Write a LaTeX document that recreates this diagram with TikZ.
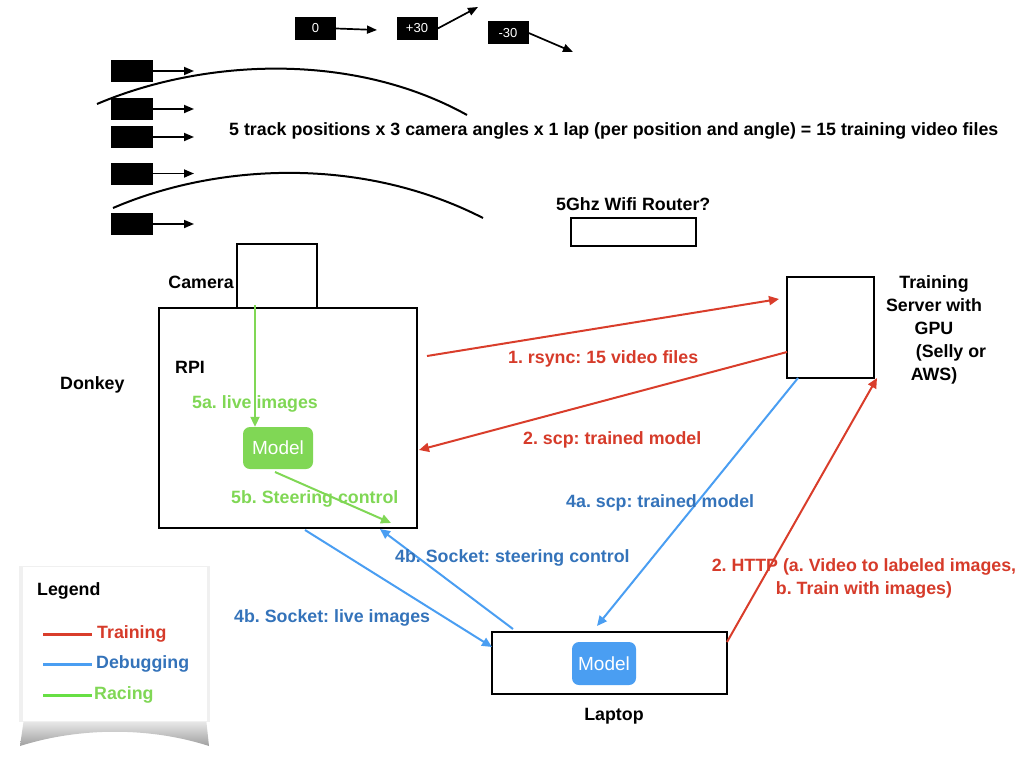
\documentclass[tikz,border=0pt]{standalone}
\usepackage{fontspec}
\setmainfont{Liberation Sans}
\usetikzlibrary{arrows.meta}
\frenchspacing
\definecolor{tred}{HTML}{D93D2B}
\definecolor{tredtxt}{HTML}{D63B2A}
\definecolor{dblue}{HTML}{4A9EF2}
\definecolor{dbluetxt}{HTML}{3473BA}
\definecolor{rgreen}{HTML}{80D755}
\tikzset{
  lbl/.style={font=\fontsize{17.8}{23}\selectfont\bfseries, inner sep=0pt},
  blk/.style={fill=black, draw=black, minimum width=41pt, minimum height=21pt, inner sep=0pt},
  ang/.style={fill=black, text=white, font=\fontsize{13}{15}\selectfont, minimum width=41pt, minimum height=23pt, inner sep=0pt},
  box/.style={draw=black, line width=2.5pt, inner sep=0pt},
  arr/.style={-{Triangle[length=10pt,width=9pt]}, line width=2pt},
  tarr/.style={arr, draw=tred, fill=tred},
  barr/.style={arr, draw=dblue, fill=dblue},
  garr/.style={arr, draw=rgreen, fill=rgreen},
  model/.style={rounded corners=7pt, text=white, font=\fontsize{19}{21}\selectfont, inner sep=0pt},
  karr/.style={-{Triangle[length=10pt,width=8pt]}, line width=1.7pt}
}
\begin{document}
\begin{tikzpicture}[x=1pt,y=-1pt]
\useasboundingbox (0,0) rectangle (1024,768);

% track position blocks
\foreach \n/\y in {1/71,2/109,3/137,4/173.5,5/224}{
  \node[blk] (p\n) at (131.5,\y) {};
  \coordinate (pe\n) at (194,\y);
  \draw[karr] (p\n.east) -- (pe\n);
}
% arcs
\draw[line width=2pt] (97,104) .. controls (200,60) and (350,50) .. (467,115);
\draw[line width=2pt] (113,208) .. controls (215,164) and (360,155) .. (483,218);

% angle boxes
\node[ang] (a0) at (315.5,28.5) {0};
\coordinate (a0e) at (377,30);
\draw[karr] (a0.east) -- (a0e);
\node[ang] (a1) at (417,28.5) {+30};
\coordinate (a1e) at (478,7);
\draw[karr] (a1.east) -- (a1e);
\node[ang] (a2) at (508,33) {-30};
\coordinate (a2e) at (573,52);
\draw[karr] (a2.east) -- (a2e);

\node[lbl, anchor=west] (title) at (229,131) {5 track positions x 3 camera angles x 1 lap (per position and angle) = 15 training video files};

% wifi
\node[lbl, anchor=west] (wifit) at (556,204) {5Ghz Wifi Router?};
\node[box, line width=1.8pt, minimum width=125pt, minimum height=28pt] (wifi) at (633.5,232) {};

% donkey
\node[box, minimum width=258pt, minimum height=220pt] (rpi) at (288,418) {};
\node[box, fill=white, minimum width=80pt, minimum height=64pt] (cam) at (277,276) {};
\node[lbl, anchor=east] (camt) at (234,282) {Camera};
\node[lbl, anchor=west] (rpit) at (175,367) {RPI};
\node[lbl, anchor=west] (donkey) at (60,385) {Donkey};
\node[model, fill=rgreen, minimum width=70pt, minimum height=42pt] (gm) at (278,448) {Model};

% server
\node[box, minimum width=87pt, minimum height=101pt] (srv) at (830.5,327.5) {};
\node[lbl, align=center] (srvt) at (934,329.5) {Training\\Server with\\GPU\\\hspace*{34pt}(Selly or\\AWS)};

% laptop
\node[box, minimum width=235pt, minimum height=62pt] (lap) at (609.5,663) {};
\node[model, fill=dblue, minimum width=64pt, minimum height=43pt] (bm) at (604,663.5) {Model};
\node[lbl, anchor=center] (lapt) at (614,716) {Laptop};

% coordinates for arrow ends
\coordinate (r1s) at (427,356);
\coordinate (r1e) at (779,299);
\coordinate (r2s) at (787,352);
\coordinate (r2e) at (419,450);
\coordinate (b4s) at (798,378);
\coordinate (b4e) at (597,626);
\coordinate (hs) at (727,642);
\coordinate (he) at (877,378);
\coordinate (sts) at (513,629);
\coordinate (ste) at (380,529);
\coordinate (lis) at (305,530);
\coordinate (lie) at (492,647);
\coordinate (g1s) at (255,305);
\coordinate (g2s) at (275,472);
\coordinate (g2e) at (391,523);

% green
\draw[garr] (g1s) -- (gm.north -| g1s);
\draw[garr] (g2s) -- (g2e);
\node[lbl, anchor=west, text=rgreen] (l5a) at (192,404) {5a. live images};
\node[lbl, anchor=west, text=rgreen] (l5b) at (231,499) {5b. Steering control};

% red
\draw[tarr] (r1s) -- (r1e);
\draw[tarr] (r2s) -- (r2e);
\draw[tarr] (hs) -- (he);
\node[lbl, anchor=west, text=tredtxt] (l1) at (508,359) {1. rsync: 15 video files};
\node[lbl, anchor=west, text=tredtxt] (l2) at (523,440) {2. scp: trained model};
\node[lbl, align=center, text=tredtxt] (lh) at (864,578.5) {2. HTTP (a. Video to labeled images,\\b. Train with images)};

% blue
\draw[barr] (b4s) -- (b4e);
\draw[barr] (sts) -- (ste);
\draw[barr] (lis) -- (lie);
\node[lbl, anchor=west, text=dbluetxt] (l4a) at (566,503) {4a. scp: trained model};
\node[lbl, anchor=west, text=dbluetxt] (l4b1) at (395,558) {4b. Socket: steering control};
\node[lbl, anchor=west, text=dbluetxt] (l4b2) at (234,618) {4b. Socket: live images};

% legend
\shade[top color=gray!10, bottom color=gray!75] (24,718) -- (206,718) -- (209,746) .. controls (150,727) and (80,727) .. (20,746) -- cycle;
\fill[gray!12] (19,566) rectangle (210,722);
\node[fill=white, minimum width=184pt, minimum height=154pt, inner sep=0pt] (leg) at (114.5,644) {};
\node[lbl, anchor=west] (legt) at (37,591) {Legend};
\coordinate (lr1) at (43,634); \coordinate (lr2) at (92,634);
\coordinate (lb1) at (43,664); \coordinate (lb2) at (92,664);
\coordinate (lg1) at (43,695); \coordinate (lg2) at (92,695);
\draw[tred, line width=3pt] (lr1) -- (lr2);
\draw[dblue, line width=3pt] (lb1) -- (lb2);
\draw[rgreen!80!green, line width=3pt] (lg1) -- (lg2);
\node[lbl, anchor=west, text=tredtxt] (lt1) at (97,634) {Training};
\node[lbl, anchor=west, text=dbluetxt] (lt2) at (96,664) {Debugging};
\node[lbl, anchor=west, text=rgreen] (lt3) at (94,695) {Racing};
\end{tikzpicture}
\end{document}
